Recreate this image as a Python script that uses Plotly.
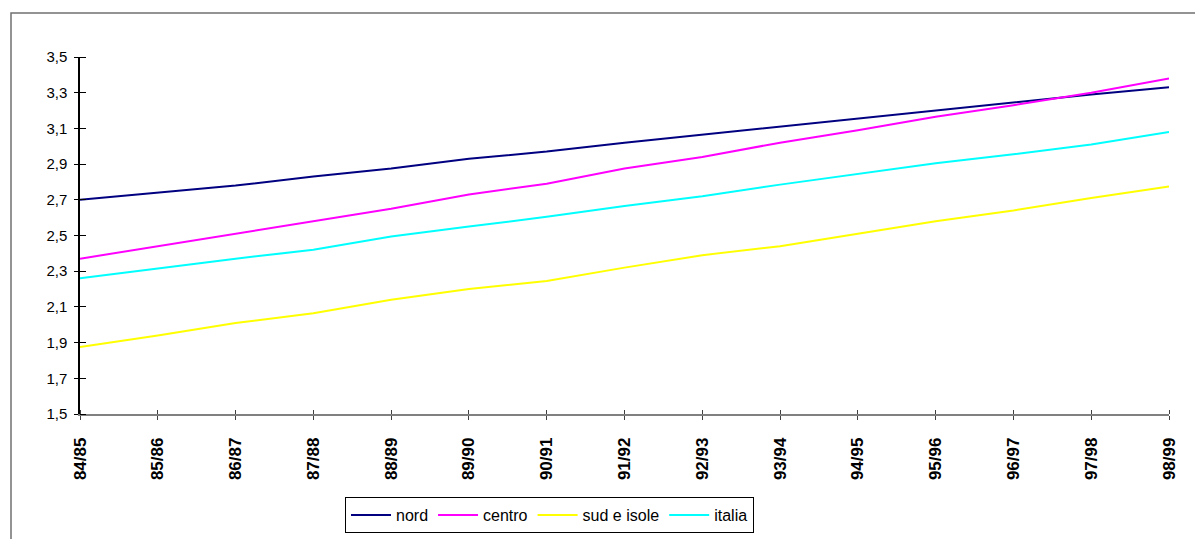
import plotly.graph_objects as go

# School years on the category axis
anni = ["84/85", "85/86", "86/87", "87/88", "88/89", "89/90", "90/91", "91/92",
        "92/93", "93/94", "94/95", "95/96", "96/97", "97/98", "98/99"]

# Values per geographic area
nord = [2.70, 2.74, 2.78, 2.83, 2.875, 2.93, 2.97, 3.02, 3.065, 3.11, 3.155, 3.20, 3.245, 3.29, 3.33]
centro = [2.37, 2.44, 2.51, 2.58, 2.65, 2.73, 2.79, 2.875, 2.94, 3.02, 3.09, 3.165, 3.23, 3.30, 3.38]
sud_e_isole = [1.875, 1.94, 2.01, 2.065, 2.14, 2.20, 2.245, 2.32, 2.39, 2.44, 2.51, 2.58, 2.64, 2.71, 2.775]
italia = [2.26, 2.315, 2.37, 2.42, 2.495, 2.55, 2.605, 2.665, 2.72, 2.785, 2.845, 2.905, 2.955, 3.01, 3.08]

y_ticks = [1.5, 1.7, 1.9, 2.1, 2.3, 2.5, 2.7, 2.9, 3.1, 3.3, 3.5]
y_tick_labels = ["1,5", "1,7", "1,9", "2,1", "2,3", "2,5", "2,7", "2,9", "3,1", "3,3", "3,5"]

series = [
    ("nord", nord, "#000080"),
    ("centro", centro, "#FF00FF"),
    ("sud e isole", sud_e_isole, "#FFFF00"),
    ("italia", italia, "#00FFFF"),
]

W, H = 1195, 539
L, R, T, B = 80, 26, 57, 125
pw, ph = W - L - R, H - T - B
FONT = "Liberation Sans, Arial, sans-serif"

fig = go.Figure()
for name, vals, col in series:
    fig.add_trace(go.Scatter(x=list(range(len(anni))), y=vals, name=name, mode="lines",
                             line=dict(color=col, width=2)))


def px_to_paper_x(px):
    return (px - L) / pw


def px_to_paper_y(py):
    return (H - B - py) / ph


# outer frame of the chart area
fig.add_shape(type="rect", xref="paper", yref="paper",
              x0=px_to_paper_x(11), x1=px_to_paper_x(1210),
              y0=px_to_paper_y(560), y1=px_to_paper_y(13),
              line=dict(color="#707070", width=1.5), fillcolor="rgba(0,0,0,0)", layer="below")

xpos = list(range(len(anni)))

fig.update_layout(
    width=W, height=H,
    margin=dict(l=L, r=R, t=T, b=B, autoexpand=False),
    paper_bgcolor="white", plot_bgcolor="white",
    font=dict(family=FONT, color="black", size=15),
    showlegend=True,
    legend=dict(orientation="h", x=px_to_paper_x(345), y=px_to_paper_y(497),
                xanchor="left", yanchor="top",
                bordercolor="black", borderwidth=1, bgcolor="white",
                font=dict(size=16), itemwidth=40, tracegroupgap=0),
    xaxis=dict(
        tickmode="array", tickvals=xpos, ticktext=anni,
        range=[0, len(anni) - 1], tickangle=-90, automargin=False,
        tickfont=dict(size=17, family=FONT, weight="bold"),
        ticklabelstandoff=11,
        showline=True, linecolor="#808080", linewidth=1.5,
        ticks="outside", ticklen=4, tickcolor="#404040",
        minor=dict(ticks="inside", tickmode="array", tickvals=xpos, ticklen=4, tickcolor="#404040"),
        showgrid=False, zeroline=False,
    ),
    yaxis=dict(
        range=[1.5, 3.5], tickmode="array", tickvals=y_ticks, ticktext=y_tick_labels,
        automargin=False,
        showline=True, linecolor="black", linewidth=1.5,
        ticks="outside", ticklen=4, tickcolor="black",
        minor=dict(ticks="inside", tickmode="array", tickvals=y_ticks, ticklen=6, tickcolor="black"),
        ticklabelstandoff=4,
        showgrid=False, zeroline=False, tickfont=dict(size=15),
    ),
)

fig.write_html("out.html")
